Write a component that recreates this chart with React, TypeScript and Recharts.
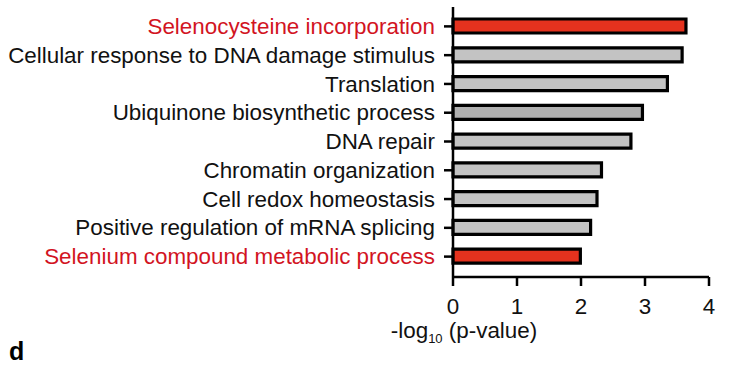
import { Bar, BarChart, Cell, XAxis, YAxis } from "recharts";

const terms = [
  "Selenocysteine incorporation",
  "Cellular response to DNA damage stimulus",
  "Translation",
  "Ubiquinone biosynthetic process",
  "DNA repair",
  "Chromatin organization",
  "Cell redox homeostasis",
  "Positive regulation of mRNA splicing",
  "Selenium compound metabolic process",
];
const logP = [3.64, 3.58, 3.35, 2.96, 2.78, 2.32, 2.25, 2.15, 1.99];
const highlighted = ["Selenocysteine incorporation", "Selenium compound metabolic process"];
const xTicks = [0, 1, 2, 3, 4];

const data = terms.map((term, i) => ({ term, value: logP[i] }));

const FONT = '"Liberation Sans", Arial, Helvetica, sans-serif';
const RED_BAR = "#e4321e";
const RED_TEXT = "#d2141f";

const barFill = (term: string, i: number) => {
  if (highlighted.includes(term)) return RED_BAR;
  return i === 3 ? "#afafaf" : "#c3c3c3";
};

const TermTick = (props: any) => {
  const { x, y, payload } = props;
  const red = highlighted.includes(payload.value);
  return (
    <text
      x={x}
      y={y}
      dy="0.34em"
      textAnchor="end"
      fontSize={22.4}
      fontFamily={FONT}
      fill={red ? RED_TEXT : "#111"}
    >
      {payload.value}
    </text>
  );
};

const AxisTitle = () => (
  <text x={464} y={338} textAnchor="middle" fontSize={22.4} fontFamily={FONT} fill="#111">
    -log
    <tspan fontSize={13} dy={5}>10</tspan>
    <tspan fontSize={22.4} dy={-5}> (p-value)</tspan>
  </text>
);

const App = () => {
  return (
    <div style={{ position: "absolute", left: 0, top: 0, width: 731, height: 371, background: "#fff" }}>
      <BarChart
        width={731}
        height={371}
        data={data}
        layout="vertical"
        margin={{ top: 7, right: 22, left: 0, bottom: 34 }}
      >
        <XAxis
          type="number"
          domain={[0, 4]}
          ticks={xTicks}
          height={60}
          stroke="#000"
          strokeWidth={2.5}
          tickSize={9}
          tickMargin={12}
          tick={{ fill: "#111", fontSize: 22.4, fontFamily: FONT }}
          label={<AxisTitle />}
        />
        <YAxis
          type="category"
          dataKey="term"
          width={453}
          padding={{ top: 5, bottom: 6 }}
          stroke="#000"
          strokeWidth={2.5}
          tickSize={9}
          tickMargin={9}
          interval={0}
          tick={<TermTick />}
        />
        <Bar dataKey="value" barSize={14} stroke="#000" strokeWidth={3.2} isAnimationActive={false}>
          {data.map((d, i) => (
            <Cell key={d.term} fill={barFill(d.term, i)} />
          ))}
        </Bar>
      </BarChart>
      <div
        style={{
          position: "absolute",
          left: 9,
          top: 339,
          fontFamily: FONT,
          fontWeight: "bold",
          fontSize: 25,
          lineHeight: "25px",
          color: "#000",
        }}
      >
        d
      </div>
    </div>
  );
};

export default App;
